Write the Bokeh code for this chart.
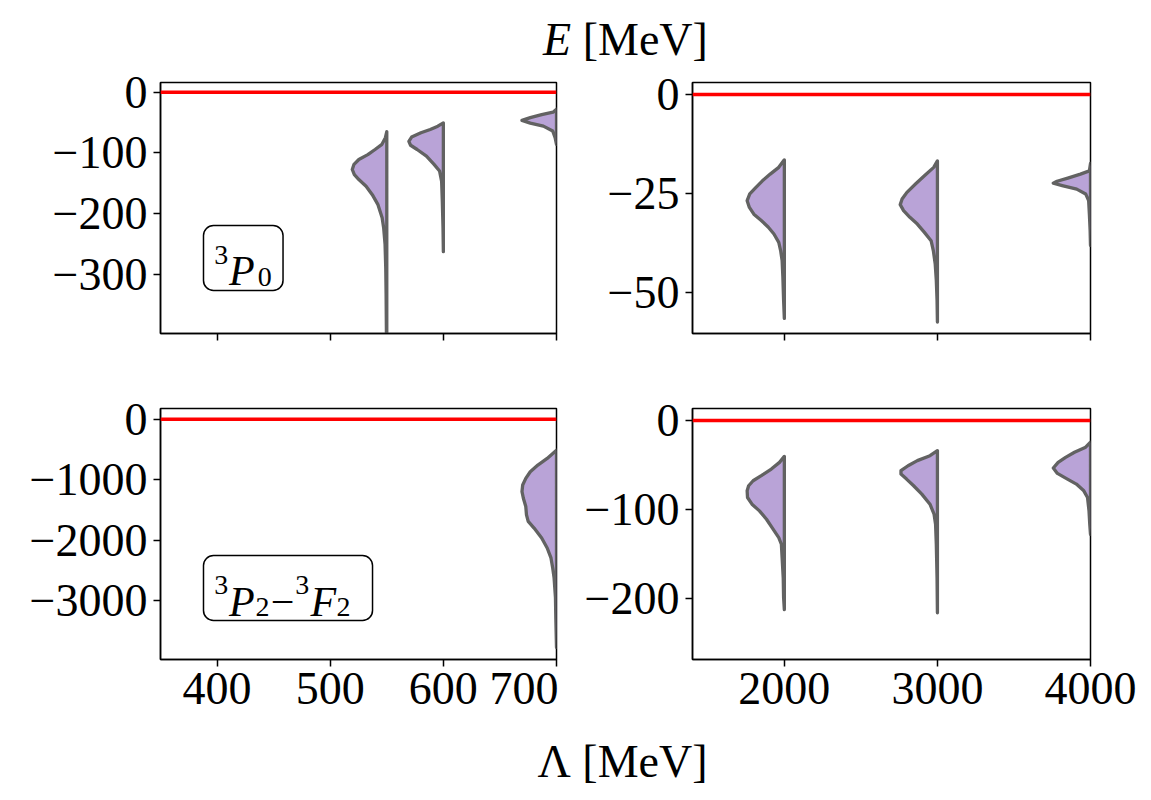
from bokeh.plotting import figure
from bokeh.layouts import column, row
from bokeh.models import Div, Span, Label, BoxAnnotation, FixedTicker, Range1d
from bokeh.embed import file_html
from bokeh.resources import INLINE

FONT = "Liberation Serif"
FILL = "#b9a3d7"
EDGE = "#626262"

# Cutoff values (MeV) at which the energy distributions are drawn
lam_low = [550, 600, 700]
lam_high = [2000, 3000, 4000]

# --- 3P0, low cutoffs: energies (MeV) along the profile and relative density
p0_550_E = [-65, -75, -86, -94.5, -103, -111, -119, -127.5, -136, -144, -155, -169,
            -185, -207, -224, -251, -290, -333, -400, -420]
p0_550_w = [0, 0.04, 0.14, 0.34, 0.55, 0.81, 0.95, 1.0, 0.94, 0.81, 0.60, 0.42,
            0.26, 0.135, 0.09, 0.05, 0.03, 0.02, 0.01, 0]
p0_600_E = [-50.5, -56, -61.5, -67, -74, -81, -87.5, -94.5, -105.5, -119, -130, -147,
            -180, -224, -263]
p0_600_w = [0, 0.16, 0.38, 0.65, 0.92, 1.0, 0.95, 0.76, 0.49, 0.27, 0.11, 0.05,
            0.03, 0.01, 0]
p0_700_E = [-28, -33, -37, -42, -46.5, -51, -56, -64, -75, -86]
p0_700_w = [0, 0.1, 0.43, 0.76, 1.0, 0.76, 0.38, 0.11, 0.04, 0]

# --- 3P0, high cutoffs
p0_2000_E = [-16.5, -18.4, -20.1, -21.8, -23.5, -25.1, -26.8, -28.5, -30.2, -31.8,
             -33.5, -35.2, -37.3, -39.4, -41.9, -46, -51.9, -56.5]
p0_2000_w = [0, 0.15, 0.38, 0.59, 0.77, 0.93, 1.0, 0.94, 0.82, 0.62,
             0.43, 0.28, 0.15, 0.10, 0.06, 0.04, 0.02, 0]
p0_3000_E = [-16.75, -18.4, -20.5, -22.6, -24.7, -26.4, -27.8, -29.3, -31, -32.7,
             -34.8, -36.9, -39.4, -42.7, -46.9, -51.9, -57.4]
p0_3000_w = [0, 0.1, 0.35, 0.59, 0.82, 0.95, 1.0, 0.91, 0.74, 0.54,
             0.35, 0.17, 0.11, 0.06, 0.03, 0.01, 0]
p0_4000_E = [-17.4, -19.3, -20.1, -21.1, -21.9, -22.4, -23.0, -23.9, -25.1, -26.8,
             -30.2, -34.3, -38.1]
p0_4000_w = [0, 0.03, 0.27, 0.61, 0.9, 1.0, 0.76, 0.37, 0.13, 0.05, 0.03, 0.01, 0]

# --- 3P2-3F2, low cutoffs (only 700 MeV binds)
p2_700_E = [-511, -648, -758, -868, -978, -1088, -1198, -1308, -1445, -1582, -1692,
            -1802, -1967, -2132, -2297, -2462, -2626, -2956, -3286, -3780]
p2_700_w = [0, 0.27, 0.54, 0.76, 0.89, 0.98, 1.0, 0.96, 0.89, 0.87, 0.82,
            0.65, 0.43, 0.27, 0.16, 0.11, 0.07, 0.03, 0.02, 0]

# --- 3P2-3F2, high cutoffs
p2_2000_E = [-40.2, -47, -54.5, -62, -67.7, -73.3, -79, -86.5, -94, -101.5, -110.9,
             -120.3, -131.6, -139, -154, -176.7, -199, -212.4]
p2_2000_w = [0, 0.13, 0.35, 0.62, 0.84, 0.96, 1.0, 0.99, 0.87, 0.67, 0.48,
             0.33, 0.15, 0.08, 0.06, 0.03, 0.02, 0]
p2_3000_E = [-33.8, -39.5, -45.1, -50.8, -56.4, -60.2, -65.8, -73.3, -82.7, -94,
             -105.3, -116.5, -139, -176.7, -216]
p2_3000_w = [0, 0.2, 0.54, 0.79, 0.98, 0.98, 0.83, 0.64, 0.42, 0.2,
             0.09, 0.05, 0.03, 0.01, 0]
p2_4000_E = [-24.4, -30, -35.7, -41.4, -47, -53.4, -59.4, -65.8, -71.4, -79, -86.5,
             -101.5, -116.5, -127.8]
p2_4000_w = [0, 0.13, 0.43, 0.67, 0.87, 1.0, 0.89, 0.62, 0.38, 0.18, 0.08,
             0.04, 0.02, 0]

# Axis ticks
x_low_ticks = [400, 500, 600, 700]
x_high_ticks = [2000, 3000, 4000]
y_p0_low_ticks = [0, -100, -200, -300]
y_p0_high_ticks = [0, -25, -50]
y_p2_low_ticks = [0, -1000, -2000, -3000]
y_p2_high_ticks = [0, -100, -200]


def tick_text(v):
    return ("\u2212" + str(abs(v))) if v < 0 else str(v)


def panel(xr, yr, xticks, yticks, show_xlabels, width, height, borders):
    left, right, top, bottom = borders
    p = figure(width=width, height=height, x_range=Range1d(*xr), y_range=Range1d(*yr),
               output_backend="svg", toolbar_location=None, title=None,
               min_border_left=left, min_border_right=right,
               min_border_top=top, min_border_bottom=bottom)
    p.grid.visible = False
    p.background_fill_color = "white"
    p.border_fill_color = "white"
    p.outline_line_color = "black"
    p.outline_line_width = 1.5
    p.outline_line_alpha = 1.0
    for ax, ticks in ((p.xaxis[0], xticks), (p.yaxis[0], yticks)):
        ax.ticker = FixedTicker(ticks=ticks, minor_ticks=[])
        ax.major_label_overrides = {t: tick_text(t) for t in ticks}
        ax.major_tick_out = 7
        ax.major_tick_in = 0
        ax.minor_tick_line_color = None
        ax.major_tick_line_width = 1.5
        ax.major_tick_line_color = "black"
        ax.axis_line_color = "black"
        ax.axis_line_width = 1.5
        ax.major_label_text_font = FONT
        ax.major_label_text_font_size = "46px"
        ax.major_label_text_color = "black"
        ax.major_label_standoff = 6
    if not show_xlabels:
        # shared Lambda axis: tick marks only on the upper row
        p.xaxis[0].major_label_text_color = None
    p.add_layout(Span(location=0, dimension="width", line_color="#ff0000",
                      line_width=3.5))
    return p


def half_violin(p, pos, E, w, half_width):
    xs = [pos - half_width * wi for wi in w] + [pos, pos]
    ys = list(E) + [E[-1], E[0]]
    p.patch(xs, ys, fill_color=FILL, fill_alpha=1.0, line_color=EDGE,
            line_width=3.3, line_join="round")


def boxed_label(p, box, parts):
    l, r, t, b = box
    p.add_layout(BoxAnnotation(left=l, right=r, top=t, bottom=b,
                               fill_color="white", fill_alpha=1.0,
                               line_color="black", line_alpha=1.0, line_width=1.5,
                               border_radius=10))
    for text, x, y, size, style in parts:
        p.add_layout(Label(x=x, y=y, text=text, text_font=FONT,
                           text_font_size=size, text_font_style=style,
                           text_align="left", text_baseline="alphabetic",
                           text_color="black"))


HW_LOW = 30.5
HW_HIGH = 243

# Row 1: 3P0
tl = panel((350, 700), (-398, 16), x_low_ticks, y_p0_low_ticks, False,
           558, 302, (160, 2, 14, 37))
for pos, E, w in zip(lam_low, [p0_550_E, p0_600_E, p0_700_E],
                     [p0_550_w, p0_600_w, p0_700_w]):
    half_violin(tl, pos, E, w, HW_LOW)
boxed_label(tl, (388, 458.3, -220, -327), [
    ("3", 397.5, -269.3, "28px", "normal"),
    ("P", 410.5, -295.7, "42px", "italic"),
    ("0", 436.0, -305.6, "28px", "normal"),
])

tr = panel((1400, 4000), (-60.3, 3), x_high_ticks, y_p0_high_ticks, False,
           593, 302, (134, 61, 14, 37))
for pos, E, w in zip(lam_high, [p0_2000_E, p0_3000_E, p0_4000_E],
                     [p0_2000_w, p0_3000_w, p0_4000_w]):
    half_violin(tr, pos, E, w, HW_HIGH)

# Row 2: 3P2-3F2
bl = panel((350, 700), (-3980, 180), x_low_ticks, y_p2_low_ticks, True,
           558, 359, (160, 2, 38, 70))
half_violin(bl, lam_low[2], p2_700_E, p2_700_w, HW_LOW)
boxed_label(bl, (388, 537.4, -2256, -3333), [
    ("3", 397.5, -2753, "28px", "normal"),
    ("P", 410.5, -3035, "42px", "italic"),
    ("2", 434.0, -3118, "28px", "normal"),
    ("\u2212", 447.5, -3035, "42px", "normal"),
    ("3", 469.0, -2753, "28px", "normal"),
    ("F", 482.5, -3035, "42px", "italic"),
    ("2", 505.5, -3118, "28px", "normal"),
])

br = panel((1400, 4000), (-268.5, 13.5), x_high_ticks, y_p2_high_ticks, True,
           593, 359, (134, 61, 38, 70))
for pos, E, w in zip(lam_high, [p2_2000_E, p2_3000_E, p2_4000_E],
                     [p2_2000_w, p2_3000_w, p2_4000_w]):
    half_violin(br, pos, E, w, HW_HIGH)

HEAD = ('<div style="box-sizing:border-box; width:1151px; display:flex; '
        'justify-content:center; font-family:\'Liberation Serif\'; font-size:46px; '
        'line-height:46px; color:black; white-space:nowrap; ')
title = Div(text=HEAD + 'padding-top:17px; padding-left:100px;"><i>E</i>&nbsp;[MeV]</div>',
            width=1151, height=68, margin=(0, 0, 0, 0))
xlabel = Div(text=HEAD + 'padding-top:10px; padding-left:94px;">\u039b&nbsp;[MeV]</div>',
             width=1151, height=70, margin=(0, 0, 0, 0))

layout = column(title, row(tl, tr), row(bl, br), xlabel)

with open("out.html", "w") as f:
    f.write(file_html(layout, INLINE))
